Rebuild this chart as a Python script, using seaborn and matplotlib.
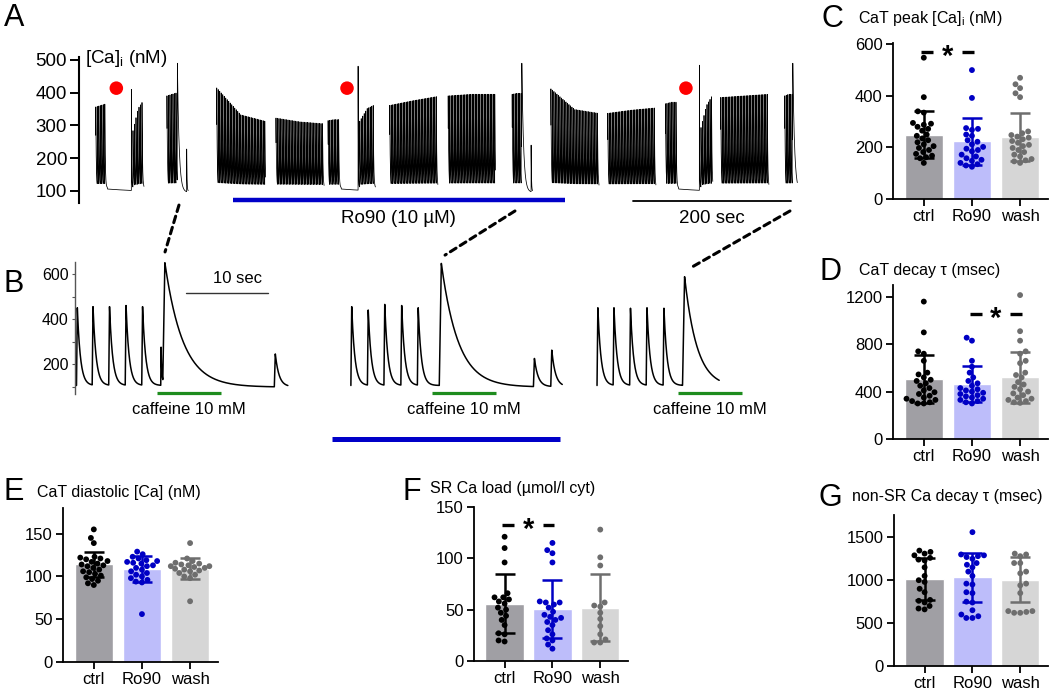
import numpy as np
import pandas as pd
import matplotlib
matplotlib.use("Agg")
import matplotlib.pyplot as plt
import seaborn as sns
from matplotlib.patches import ConnectionPatch

sns.set_theme(style="ticks")
plt.rcParams["font.family"] = ["Liberation Sans", "DejaVu Sans"]
plt.rcParams["axes.edgecolor"] = "black"
plt.rcParams["text.color"] = "black"
plt.rcParams["xtick.color"] = "black"
plt.rcParams["ytick.color"] = "black"

# ---------------- data ----------------
# Panel A: long [Ca]i record (time in s, [Ca]i in nM)
A_seg_start = [0.9, 48, 91, 154, 229, 295, 335, 373, 447, 528, 577, 649, 722, 767, 792, 873]
A_seg_end = [14, 61, 104, 215, 289, 310, 354, 433, 506, 540, 637, 709, 737, 781, 852, 883]
A_peak_start = [365, 290, 400, 425, 330, 322, 320, 370, 400, 405, 422, 345, 375, 300, 395, 400]
A_peak_mid = [370, 360, 405, 340, 318, 325, 360, 385, 405, 408, 357, 355, 380, 370, 400, 405]
A_peak_end = [375, 385, 410, 320, 312, 325, 372, 398, 405, 408, 345, 362, 380, 400, 405, 405]
A_rest_start = [14, 310, 737]
A_rest_end = [46, 333, 765]
A_post_rest_peak = [410, 481, 484]
A_caff_time = [104, 540, 883]
A_caff_peak = [490, 490, 490]
A_after_beat = [116, 552]
A_after_peak = [228, 240]
A_block_start = [0.9, 91, 154, 229, 295, 373, 447, 528, 577, 649, 722, 792, 873]
A_block_end = [62, 118, 216, 290, 355, 434, 507, 554, 638, 710, 782, 853, 889]
A_dot_time = [27, 319, 748]
A_drug = (175, 595)
A_scale = (681, 881)

# Panel B: caffeine-induced transients (time in s from each trace start)
B_offset = [0.18, 33.4, 63.2]
B_beat_times = [[0, 1.9, 3.9, 5.9, 7.9], [0, 2.0, 4.0, 6.05, 8.05], [0, 1.95, 3.95, 5.95, 8.0]]
B_beat_peaks = [[450, 455, 455, 460, 455], [455, 440, 465, 460, 450], [450, 450, 448, 450, 448]]
B_pre_time = [10.2, None, None]
B_pre_peak = [275, None, None]
B_caff_time = [10.45, 10.7, 10.35]
B_caff_peak = [650, 647, 588]
B_caff_tau = [2.2, 2.05, 1.5]
B_after_times = [[23.95], [22.1, 24.2], []]
B_after_peaks = [[245], [225, 262], []]
B_end = [25.6, 25.6, 14.8]
B_green = [(9.8, 17.5), (9.8, 17.6), (9.8, 17.6)]
B_drug = (31.1, 58.7)

# Bar panels
groups = ["ctrl", "Ro90", "wash"]
bar_colors = ["#a09fa4", "#bdbdfa", "#d6d6d6"]
dot_colors = ["#000000", "#0000c4", "#6e6e6e"]

C_ctrl = [548, 395, 340, 335, 295, 292, 288, 280, 272, 265, 250, 245, 235, 228, 220, 212, 205, 198, 190, 182, 175, 168, 162, 158, 140]
C_ro90 = [500, 392, 275, 272, 268, 250, 245, 228, 222, 212, 202, 195, 190, 185, 172, 165, 158, 152, 148, 140, 135, 130, 125]
C_wash = [470, 445, 430, 410, 395, 262, 255, 248, 242, 238, 232, 225, 218, 210, 205, 198, 190, 182, 172, 165, 155, 150, 146, 140]
C_mean = [250, 224, 240]
C_sd = [90, 91, 92]

D_ctrl = [1160, 900, 740, 720, 660, 560, 545, 520, 500, 490, 470, 450, 430, 410, 395, 380, 365, 350, 340, 330, 320, 310, 300, 300]
D_ro90 = [855, 830, 660, 610, 560, 520, 490, 470, 450, 430, 420, 410, 400, 390, 380, 370, 360, 350, 340, 330, 320, 310, 300]
D_wash = [1215, 910, 830, 740, 720, 660, 640, 560, 540, 520, 480, 460, 440, 420, 400, 385, 370, 350, 340, 330, 320, 310, 305]
D_mean = [505, 464, 522]
D_sd = [205, 155, 215]

E_ctrl = [155, 145, 139, 123, 122, 121, 120, 118, 117, 115, 114, 113, 112, 110, 108, 106, 105, 103, 101, 99, 97, 95, 92, 90]
E_ro90 = [129, 126, 123, 121, 119, 118, 117, 116, 115, 113, 112, 110, 108, 106, 104, 102, 100, 98, 96, 94, 93, 56]
E_wash = [139, 121, 118, 116, 115, 114, 113, 112, 112, 111, 110, 109, 108, 107, 106, 104, 102, 100, 98, 71]
E_mean = [114, 109, 109]
E_sd = [15, 15, 12]

F_ctrl = [121, 110, 96, 66, 62, 62, 60, 58, 56, 52, 50, 47, 44, 40, 35, 27, 26, 20, 19]
F_ro90 = [115, 108, 105, 96, 58, 57, 57, 55, 52, 48, 45, 43, 42, 40, 38, 35, 30, 26, 22, 20, 16, 12]
F_wash = [128, 101, 93, 57, 54, 53, 47, 41, 34, 26, 21, 18, 18]
F_mean = [56, 50.5, 52]
F_sd = [29, 28.5, 33]

G_ctrl = [1345, 1330, 1310, 1290, 1260, 1240, 1230, 1150, 1050, 1000, 980, 900, 860, 770, 760, 740, 700, 670, 660]
G_ro90 = [1560, 1300, 1290, 1280, 1270, 1250, 1200, 1180, 1150, 1100, 1050, 960, 950, 860, 850, 750, 740, 650, 600, 580, 560, 560]
G_wash = [1310, 1300, 1280, 1200, 1200, 1100, 1080, 960, 940, 850, 640, 640, 630, 620, 620]
G_mean = [1015, 1035, 1005]
G_sd = [245, 285, 260]

# ---------------- helpers ----------------
W, H = 1050, 691
fig = plt.figure(figsize=(10.5, 6.91), dpi=100)


def px_axes(l, t, r, b):
    return fig.add_axes([l / W, 1 - b / H, (r - l) / W, (b - t) / H])


def ftext(x, y, s, **kw):
    fig.text(x / W, 1 - y / H, s, **kw)


def build_trace(t, events, t_end, start_val):
    # events: (time, peak, rise, tau, diastolic)
    y = np.full_like(t, np.nan)
    prev = start_val
    for k, (te, pk, rise, tau, dia) in enumerate(events):
        tn = events[k + 1][0] if k + 1 < len(events) else t_end
        m = (t >= te) & (t < tn)
        s = t[m] - te
        up = prev + (pk - prev) * np.clip(s / rise, 0, 1)
        down = dia + (pk - dia) * np.exp(-np.clip(s - rise, 0, None) / tau)
        y[m] = np.where(s < rise, up, down)
        prev = dia + (pk - dia) * np.exp(-max(tn - te - rise, 0) / tau)
    return y


# ---------------- panel A ----------------
period = 1.9
evA = []
for i in range(len(A_seg_start)):
    bt = np.arange(A_seg_start[i], A_seg_end[i], period)
    pk = np.interp(bt, [A_seg_start[i], (A_seg_start[i] + A_seg_end[i]) / 2, A_seg_end[i]],
                   [A_peak_start[i], A_peak_mid[i], A_peak_end[i]])
    evA += [(a, b, 0.08, 0.6, 110) for a, b in zip(bt, pk)]
for a, b in zip(A_rest_start, A_rest_end):
    evA.append((a + 1.5, 106, 0.3, 60, 95))
for a, p in zip(A_rest_end, A_post_rest_peak):
    evA.append((a, p, 0.05, 0.3, 112))
for a, p in zip(A_caff_time, A_caff_peak):
    evA.append((a, p, 0.3, 2.2, 96))
for a, p in zip(A_after_beat, A_after_peak):
    evA.append((a, p, 0.05, 0.4, 100))
evA.sort(key=lambda e: e[0])

tA = np.arange(-5, 892, 0.05)
yA = build_trace(tA, evA, 892, 112)
inside = np.zeros_like(tA, dtype=bool)
for a, b in zip(A_block_start, A_block_end):
    inside |= (tA >= a) & (tA <= b)
yA[~inside] = np.nan

axA = px_axes(79, 50, 800, 215)
axA.set_xlim(-20.25, 892.4)
axA.set_ylim(26.7, 530.5)
axA.plot(tA, yA, color="black", lw=0.55)
sns.scatterplot(x=A_dot_time, y=[414] * 3, ax=axA, color="#ff0000", s=95, edgecolor="none", zorder=5)
axA.plot(A_drug, [72, 72], color="#0000c8", lw=3.2, solid_capstyle="butt", clip_on=False)
axA.plot(A_scale, [69, 69], color="black", lw=1.3, clip_on=False)
axA.text(sum(A_drug) / 2 - 0.5, 17, "Ro90 (10 µM)", ha="center", va="center", fontsize=13.5)
axA.text(sum(A_scale) / 2, 17, "200 sec", ha="center", va="center", fontsize=13.5)
axA.text(-12.5, 506, r"[Ca]$_\mathregular{i}$ (nM)", ha="left", va="center", fontsize=13.5)
axA.set_yticks([100, 200, 300, 400, 500])
axA.set_xticks([])
axA.spines["left"].set_bounds(64, 510)
axA.spines["left"].set_linewidth(1.5)
for s in ["top", "right", "bottom"]:
    axA.spines[s].set_visible(False)
axA.tick_params(axis="y", length=6.5, width=1.4, labelsize=13.5, pad=2)
axA.patch.set_alpha(0)

# ---------------- panel B ----------------
axB = px_axes(75, 250, 760, 400)
axB.set_xlim(0, 82.93)
axB.set_ylim(40.6, 706.6)
for i in range(3):
    ev = [(a, p, 0.1, 0.38, 105) for a, p in zip(B_beat_times[i], B_beat_peaks[i])]
    if B_pre_time[i] is not None:
        ev.append((B_pre_time[i], B_pre_peak[i], 0.04, 0.08, 120))
    ev.append((B_caff_time[i], B_caff_peak[i], 0.25, B_caff_tau[i], 98))
    ev += [(a, p, 0.12, 0.45, 100) for a, p in zip(B_after_times[i], B_after_peaks[i])]
    ev.sort(key=lambda e: e[0])
    tb = np.arange(-0.02, B_end[i], 0.01)
    yb = build_trace(tb, ev, B_end[i], 105)
    yb[0] = 105
    axB.plot(tb + B_offset[i], yb, color="black", lw=1.1)
    g0, g1 = B_green[i]
    axB.plot([g0 + B_offset[i], g1 + B_offset[i]], [71.6, 71.6], color="#1e8c1e", lw=2.3,
             solid_capstyle="butt", clip_on=False)
    axB.text((g0 + g1) / 2 + B_offset[i], 0.6, "caffeine 10 mM", ha="center", va="center", fontsize=12)
axB.plot(B_drug, [-132.6, -132.6], color="#0000c8", lw=3.6, solid_capstyle="butt", clip_on=False)
axB.plot([13.44, 23.37], [514, 514], color="#333333", lw=1.0)
axB.text(19.7, 578, "10 sec", ha="center", va="center", fontsize=12)
axB.set_yticks([200, 400, 600])
axB.set_yticks([100, 300, 500], minor=True)
axB.set_xticks([])
axB.spines["left"].set_bounds(67, 655)
axB.spines["left"].set_color("#555555")
axB.spines["left"].set_linewidth(1.0)
for s in ["top", "right", "bottom"]:
    axB.spines[s].set_visible(False)
axB.tick_params(axis="y", which="major", length=2.5, width=0.8, labelsize=11.5, pad=2, color="#555555")
axB.tick_params(axis="y", which="minor", length=2, width=0.8, color="#555555")
axB.patch.set_alpha(0)

# connectors from A to B
for xa, ya, xb, yb in [(106.3, 57, 10.9, 698), (531.6, 39, 44.8, 684), (879.7, 39, 74.7, 631)]:
    con = ConnectionPatch(xyA=(xa, ya), coordsA="data", axesA=axA, xyB=(xb, yb), coordsB="data", axesB=axB,
                          color="black", lw=2.2, linestyle=(0, (2.2, 1.6)))
    fig.add_artist(con)


# ---------------- bar panels ----------------
def bar_panel(rect, pts, means, sds, ymax, yticks, sig=None):
    ax = px_axes(*rect)
    sns.barplot(x=groups, y=means, hue=groups, palette=bar_colors, legend=False, width=0.8,
                saturation=1, ax=ax, zorder=1, errorbar=None)
    df = pd.DataFrame({"group": np.repeat(groups, [len(p) for p in pts]), "value": np.concatenate(pts)})
    sns.swarmplot(data=df, x="group", y="value", hue="group", order=groups, hue_order=groups,
                  palette=dot_colors, size=4.2, legend=False, ax=ax, zorder=3, linewidth=0)
    for i in range(3):
        ax.errorbar(i, means[i], yerr=sds[i], color=dot_colors[i], capsize=7, elinewidth=1.8,
                    capthick=1.8, zorder=4)
    ax.set_xlim(-0.64, 2.58)
    ax.set_ylim(0, ymax)
    ax.set_yticks(yticks)
    ax.set_xlabel("")
    ax.set_ylabel("")
    sns.despine(ax=ax)
    for s in ["left", "bottom"]:
        ax.spines[s].set_linewidth(1.3)
    ax.tick_params(length=5, width=1.3, labelsize=12, pad=2.5)
    ax.patch.set_alpha(0)
    if sig is not None:
        a, b, y = sig
        ax.plot([a - 0.05, a + 0.2], [y, y], color="black", lw=2.4, solid_capstyle="butt")
        ax.plot([b - 0.2, b + 0.04], [y, y], color="black", lw=2.4, solid_capstyle="butt")
        ax.annotate("*", ((a + b) / 2, y), xytext=(0, -3.5), textcoords="offset points",
                    ha="center", va="center", fontsize=21, fontweight="bold")
    return ax


bar_panel((893, 43, 1048, 199), [C_ctrl, C_ro90, C_wash], C_mean, C_sd, 605, [0, 200, 400, 600], (0, 1, 570))
bar_panel((893, 285, 1048, 439), [D_ctrl, D_ro90, D_wash], D_mean, D_sd, 1300, [0, 400, 800, 1200], (1, 2, 1056))
bar_panel((63, 508, 218, 662), [E_ctrl, E_ro90, E_wash], E_mean, E_sd, 180, [0, 50, 100, 150])
bar_panel((474, 507, 628, 661), [F_ctrl, F_ro90, F_wash], F_mean, F_sd, 150, [0, 50, 100, 150], (0, 1, 132.7))
bar_panel((894, 515, 1048, 666), [G_ctrl, G_ro90, G_wash], G_mean, G_sd, 1760, [0, 500, 1000, 1500])

# titles and panel letters
ftext(858, 19, r"CaT peak [Ca]$_\mathregular{i}$ (nM)", fontsize=11.5, va="center")
ftext(859, 270, "CaT decay τ (msec)", fontsize=11.5, va="center")
ftext(37, 492, "CaT diastolic [Ca] (nM)", fontsize=11.5, va="center")
ftext(430, 488, "SR Ca load (µmol/l cyt)", fontsize=11.5, va="center")
ftext(852, 497, "non-SR Ca decay τ (msec)", fontsize=11.5, va="center")
for lab, x, y in [("A", 14, 18), ("B", 14, 284), ("C", 832, 19), ("D", 831, 272),
                  ("E", 14, 492), ("F", 412, 492), ("G", 830, 498)]:
    ftext(x, y, lab, fontsize=22, ha="center", va="center")

fig.savefig("out.png", dpi=100)
